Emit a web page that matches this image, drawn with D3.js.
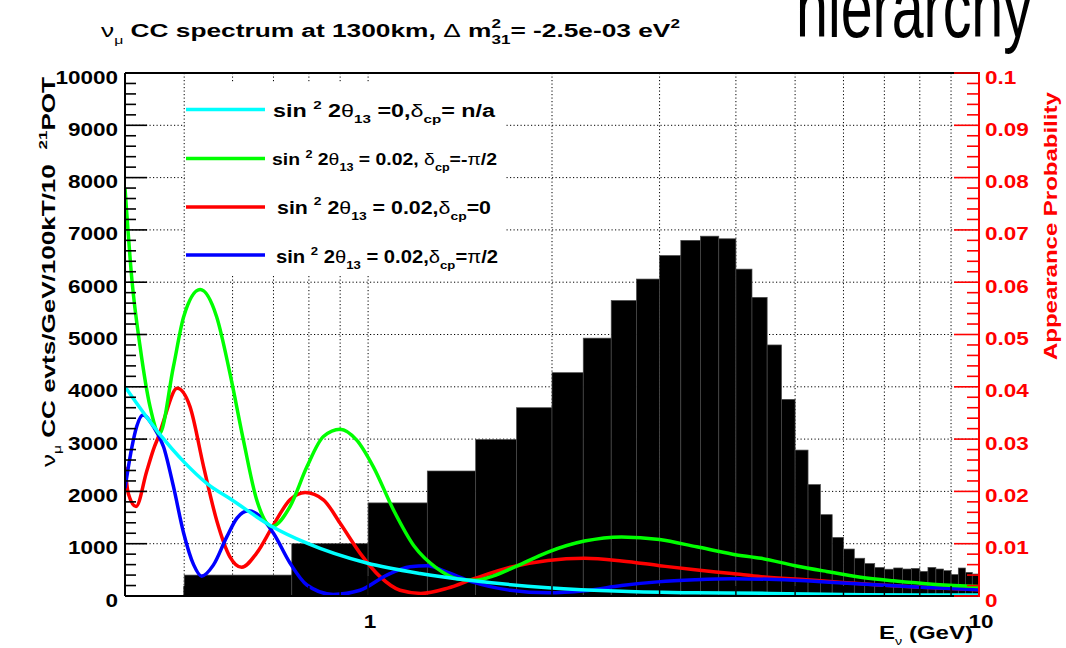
<!DOCTYPE html>
<html>
<head>
<meta charset="utf-8">
<script src="https://cdn.jsdelivr.net/npm/d3@7"></script>
<style>
  body { margin: 0; background: #fff; }
  svg { display: block; }
</style>
</head>
<body>
<svg id="chart" width="1066" height="648"></svg>
<script>
// ---- Histogram: nu_mu CC event spectrum, 0.25 GeV bins ----
const binEdges = [0.5, 0.75, 1.0, 1.25, 1.5, 1.75, 2.0, 2.25, 2.5, 2.75,
                  3.0, 3.25, 3.5, 3.75, 4.0, 4.25, 4.5, 4.75, 5.0, 5.25,
                  5.5, 5.75, 6.0, 6.25, 6.5, 6.75, 7.0, 7.25, 7.5, 7.75,
                  8.0, 8.25, 8.5, 8.75, 9.0, 9.25, 9.5, 9.75, 10.0];
const binCounts = [400, 1000, 1780, 2390, 2990, 3600, 4270, 4930, 5650, 6060,
                   6510, 6800, 6880, 6830, 6250, 5710, 4800, 3760, 2790, 2130,
                   1555, 1120, 898, 722, 620, 545, 512, 536, 516, 528,
                   470, 546, 516, 484, 410, 535, 452, 420];

// ---- Appearance probability curves ----
// sin^2 2theta13 = 0 (delta n/a)
const eCyan = [0.4, 0.4555, 0.499, 0.545, 0.598, 0.696, 0.794, 0.995, 1.216, 1.49, 1.97, 2.6, 3.43, 4.53, 6.0, 8.0, 10];
const pCyan = [0.040, 0.031, 0.0257, 0.0215, 0.0184, 0.0133, 0.0101, 0.0063, 0.0043, 0.0029, 0.0016, 0.0009, 0.0006, 0.0005, 0.0003, 0.0002, 0.0002];
// sin^2 2theta13 = 0.02, delta = -pi/2
const eGreen = [0.4, 0.4106, 0.4234, 0.4396, 0.4555, 0.48, 0.499, 0.531, 0.565, 0.594, 0.625, 0.657, 0.696, 0.745, 0.794, 0.845, 0.9, 0.958, 1.02, 1.1, 1.19, 1.3, 1.4, 1.5, 1.6, 1.75, 1.97, 2.26, 2.6, 3.0, 3.45, 3.95, 4.4, 5.0, 5.63, 6.4, 7.24, 8.5, 10];
const pGreen = [0.078, 0.0604, 0.0477, 0.0362, 0.031, 0.0438, 0.0534, 0.0586, 0.0534, 0.0426, 0.0298, 0.0184, 0.0133, 0.0171, 0.0247, 0.0305, 0.0319, 0.0298, 0.0247, 0.0165, 0.0095, 0.0052, 0.0033, 0.003, 0.0038, 0.0057, 0.0084, 0.0105, 0.0113, 0.0108, 0.0094, 0.008, 0.0072, 0.0058, 0.0047, 0.0036, 0.0029, 0.0022, 0.0018];
// sin^2 2theta13 = 0.02, delta = 0
const eRed = [0.4, 0.405, 0.417, 0.434, 0.4452, 0.4555, 0.4627, 0.487, 0.511, 0.538, 0.565, 0.594, 0.621, 0.657, 0.70, 0.745, 0.789, 0.845, 0.9, 0.97, 1.046, 1.128, 1.22, 1.35, 1.49, 1.71, 1.97, 2.26, 2.6, 3.0, 3.43, 3.94, 4.4, 5.21, 5.98, 6.87, 7.9, 10];
const pRed = [0.0247, 0.0196, 0.0171, 0.0238, 0.028, 0.031, 0.0335, 0.0397, 0.0362, 0.0247, 0.0145, 0.0075, 0.0055, 0.0082, 0.0136, 0.0184, 0.0198, 0.0184, 0.0139, 0.0082, 0.0037, 0.0011, 0.0005, 0.0015, 0.0033, 0.0055, 0.0068, 0.0072, 0.0067, 0.0058, 0.005, 0.0043, 0.0037, 0.0031, 0.0026, 0.0021, 0.0017, 0.0012];
// sin^2 2theta13 = 0.02, delta = pi/2
const eBlue = [0.4, 0.4106, 0.418, 0.428, 0.4452, 0.4627, 0.48, 0.499, 0.518, 0.534, 0.558, 0.587, 0.61, 0.637, 0.666, 0.70, 0.745, 0.794, 0.877, 0.97, 1.073, 1.171, 1.25, 1.35, 1.49, 1.71, 1.97, 2.26, 2.6, 2.98, 3.43, 3.94, 4.53, 5.21, 5.98, 6.87, 7.9, 10];
const pBlue = [0.0206, 0.0285, 0.0324, 0.0346, 0.0324, 0.0285, 0.021, 0.012, 0.006, 0.0038, 0.0059, 0.0113, 0.0149, 0.0163, 0.0152, 0.012, 0.0063, 0.0021, 0.0003, 0.0011, 0.004, 0.0056, 0.0058, 0.0045, 0.0026, 0.0011, 0.0006, 0.001, 0.002, 0.0027, 0.0031, 0.0033, 0.0032, 0.0029, 0.0025, 0.0021, 0.0017, 0.0012];

// ---- Axis ticks and labels ----
const countTicks = [0, 1000, 2000, 3000, 4000, 5000, 6000, 7000, 8000, 9000, 10000];
const probTicks = [0, 0.01, 0.02, 0.03, 0.04, 0.05, 0.06, 0.07, 0.08, 0.09, 0.1];
const probTickLabels = ["0", "0.01", "0.02", "0.03", "0.04", "0.05", "0.06", "0.07", "0.08", "0.09", "0.1"];
const energyGrid = [0.5, 0.6, 0.7, 0.8, 0.9, 1, 2, 3, 4, 5, 6, 7, 8, 9];
const energyLabels = [1, 10];

const FONT = "'Liberation Sans', Arial, Helvetica, sans-serif";
const svg = d3.select("#chart");

const L = 125, R = 979, T = 73, B = 596;
const x = d3.scaleLog().domain([0.4, 10]).range([L, R]);
const y = d3.scaleLinear().domain([0, 10000]).range([B, T]);
const yP = d3.scaleLinear().domain([0, 0.1]).range([B, T]);

// Rich text: pieces laid out side by side, with sub/superscripts and stacking
function rich(parent, pieces, o) {
  const size = o.size;
  const outer = parent.append("g");
  const inner = outer.append("g");
  let cx = 0, lastStart = 0;
  pieces.forEach(p => {
    const [str, opt] = Array.isArray(p) ? [p[0], p[1] || {}] : [p, {}];
    const t = inner.append("text")
      .attr("font-family", FONT)
      .attr("font-size", size * (opt.s || 1))
      .attr("font-weight", opt.w || o.weight || "bold")
      .attr("fill", o.fill || "#000")
      .style("white-space", "pre")
      .attr("y", (opt.dy || 0) * size)
      .text(str);
    const sx0 = opt.stack ? lastStart : cx;
    t.attr("x", sx0);
    const w = t.node().getComputedTextLength();
    if (opt.stack) cx = Math.max(cx, sx0 + w);
    else { lastStart = sx0; cx = sx0 + w; }
  });
  const natural = cx;
  const s = o.width ? o.width / natural : (o.sx || 1);
  const k = o.anchor === "middle" ? 0.5 : o.anchor === "end" ? 1 : 0;
  inner.attr("transform", `scale(${s},1) translate(${-k * natural},0)`);
  outer.attr("transform", `translate(${o.x},${o.y}) rotate(${o.rotate || 0})`);
  return outer;
}
const SUP = { s: 0.65, dy: -0.45 };
const SUB = { s: 0.65, dy: 0.35 };
const GR = { w: "normal" };
const GRSUB = { w: "normal", s: 0.6, dy: 0.35 };

// ---- Grid (dotted, under the histogram) ----
const grid = svg.append("g").attr("stroke", "#000").attr("stroke-width", 1)
  .attr("stroke-dasharray", "1.2,2.3");
grid.selectAll("line.h").data(countTicks.slice(1, -1)).join("line")
  .attr("x1", L).attr("x2", R).attr("y1", d => y(d)).attr("y2", d => y(d));
grid.selectAll("line.v").data(energyGrid).join("line")
  .attr("y1", T).attr("y2", B).attr("x1", d => x(d)).attr("x2", d => x(d));

// ---- Legend box (white, covers grid) ----
const legendEntries = [
  { color: "#00ffff", yLine: 109.5, yText: 117, xText: 273, w: 222, size: 18,
    pieces: ["sin ", ["2", SUP], " 2", ["θ", GR], ["13", SUB], " =0,", ["δ", GR], ["cp", SUB], "= n/a"] },
  { color: "#00ff00", yLine: 158.5, yText: 165, xText: 272, w: 225, size: 16,
    pieces: ["sin ", ["2", SUP], " 2", ["θ", GR], ["13", SUB], " = 0.02, ", ["δ", GR], ["cp", SUB], "=-", ["π", GR], "/2"] },
  { color: "#ff0000", yLine: 207, yText: 213.5, xText: 277, w: 214, size: 18,
    pieces: ["sin ", ["2", SUP], " 2", ["θ", GR], ["13", SUB], " = 0.02,", ["δ", GR], ["cp", SUB], "=0"] },
  { color: "#0000ff", yLine: 255, yText: 263, xText: 276, w: 222, size: 18,
    pieces: ["sin ", ["2", SUP], " 2", ["θ", GR], ["13", SUB], " = 0.02,", ["δ", GR], ["cp", SUB], "=", ["π", GR], "/2"] }
];
svg.append("rect").attr("x", 185).attr("y", 83).attr("width", 320).attr("height", 191).attr("fill", "#fff");
legendEntries.forEach(e => {
  svg.append("line").attr("x1", 186).attr("x2", 265).attr("y1", e.yLine).attr("y2", e.yLine)
    .attr("stroke", e.color).attr("stroke-width", 3.5);
  rich(svg, e.pieces, { x: e.xText, y: e.yText, size: e.size, width: e.w });
});

// ---- Histogram bars ----
const bins = binCounts.map((c, i) => ({ e0: binEdges[i], e1: binEdges[i + 1], c }));
svg.append("g").selectAll("rect").data(bins).join("rect")
  .attr("x", d => x(d.e0)).attr("width", d => x(d.e1) - x(d.e0))
  .attr("y", d => y(d.c)).attr("height", d => y(0) - y(d.c))
  .attr("fill", "#000").attr("stroke", "#4a4a4a").attr("stroke-width", 0.7);

// ---- Probability curves ----
svg.append("clipPath").attr("id", "plotclip").append("rect")
  .attr("x", L).attr("y", T).attr("width", R - L).attr("height", B - T);
const line = d3.line().x(d => x(d[0])).y(d => yP(d[1])).curve(d3.curveMonotoneX);
const curves = [
  { e: eRed, p: pRed, color: "#ff0000" },
  { e: eBlue, p: pBlue, color: "#0000ff" },
  { e: eGreen, p: pGreen, color: "#00ff00" },
  { e: eCyan, p: pCyan, color: "#00ffff" }
];
const cg = svg.append("g").attr("clip-path", "url(#plotclip)");
curves.forEach(c => {
  cg.append("path").datum(c.e.map((e, i) => [e, c.p[i]]))
    .attr("d", line).attr("fill", "none").attr("stroke", c.color)
    .attr("stroke-width", 3.5).attr("stroke-linejoin", "round");
});

// ---- Frame and axes ----
const frame = svg.append("g").attr("stroke", "#000").attr("stroke-width", 2).attr("fill", "none");
frame.append("line").attr("x1", L).attr("x2", R).attr("y1", T).attr("y2", T);
frame.append("line").attr("x1", L).attr("x2", R).attr("y1", B).attr("y2", B);
frame.append("line").attr("x1", L).attr("x2", L).attr("y1", T).attr("y2", B);

// left axis ticks (inside, every 200)
const leftMinor = d3.range(0, 10001, 200);
svg.append("g").attr("stroke", "#000").attr("stroke-width", 1.6)
  .selectAll("line").data(leftMinor).join("line")
  .attr("x1", L).attr("x2", d => L + (d % 1000 === 0 ? 22 : 11))
  .attr("y1", d => y(d)).attr("y2", d => y(d));

// bottom axis ticks (log)
svg.append("g").attr("stroke", "#000").attr("stroke-width", 1.4)
  .selectAll("line").data(energyGrid).join("line")
  .attr("x1", d => x(d)).attr("x2", d => x(d))
  .attr("y1", B).attr("y2", d => B - (d === 1 ? 20 : 10));

// right axis (red)
const red = "#ff0000";
svg.append("line").attr("x1", R).attr("x2", R).attr("y1", T - 1).attr("y2", B + 1)
  .attr("stroke", red).attr("stroke-width", 2);
const rightMinor = d3.range(0, 51).map(i => i * 0.002);
svg.append("g").attr("stroke", red).attr("stroke-width", 1.6)
  .selectAll("line").data(rightMinor).join("line")
  .attr("x1", R).attr("x2", (d, i) => R - (i % 5 === 0 ? 25 : 12))
  .attr("y1", d => yP(d)).attr("y2", d => yP(d));

// tick labels
countTicks.forEach(v => {
  rich(svg, [String(v)], { x: 118, y: y(v) + 10.5, size: 18, anchor: "end", sx: 1.25 });
});
probTicks.forEach((v, i) => {
  rich(svg, [probTickLabels[i]], { x: 985, y: yP(v) + 10.5, size: 18, anchor: "start", sx: 1.25, fill: red });
});
energyLabels.forEach(v => {
  rich(svg, [String(v)], { x: x(v) + 2, y: 628, size: 18, anchor: "middle", sx: 1.25 });
});

// axis titles
rich(svg, [["ν", GR], ["μ", GRSUB], " CC evts/GeV/100kT/10  ", ["21", SUP], "POT"],
  { x: 55, y: 272, size: 18, anchor: "middle", rotate: -90, width: 390 });
rich(svg, ["Appearance Probability"],
  { x: 1057, y: 226, size: 18, anchor: "middle", rotate: -90, width: 268, fill: red });
rich(svg, ["E", ["ν", GRSUB], " (GeV)"],
  { x: 973, y: 639, size: 18, anchor: "end", width: 94 });

// title
rich(svg, [["ν", GR], ["μ", GRSUB], " CC spectrum at 1300km, ", ["Δ", GR], " m", ["2", SUP], ["31", { s: 0.65, dy: 0.35, stack: true }], "= -2.5e-03 eV", ["2", SUP]],
  { x: 101, y: 37, size: 19, anchor: "start", width: 579 });

// large heading at the top right; its upper part runs past the page edge
rich(svg, ["hierarchy"], { x: 796, y: 37, size: 84, anchor: "start", width: 236, weight: "normal" });
</script>
</body>
</html>
